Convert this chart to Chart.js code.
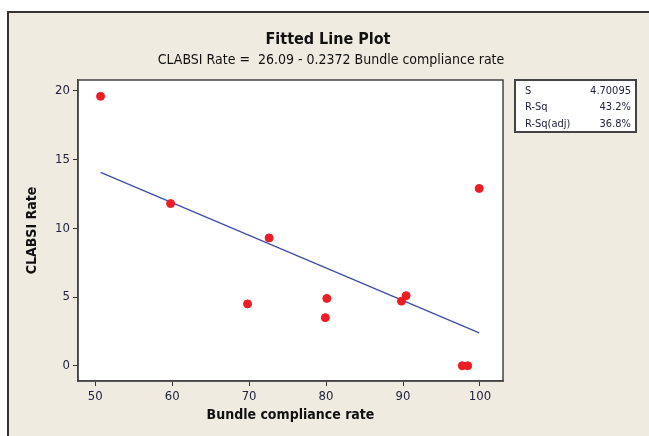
<!DOCTYPE html>
<html>
<head>
<meta charset="utf-8">
<script src="https://cdn.jsdelivr.net/npm/chart.js@4"></script>
<style>
  html, body { margin: 0; padding: 0; background: #fff; }
  #wrap { width: 649px; height: 436px; }
</style>
</head>
<body>
<div id="wrap"><canvas id="myChart" width="649" height="436"></canvas></div>
<script>
// data
const complianceRate = [50.7, 59.8, 69.8, 72.6, 79.9, 80.1, 89.8, 90.4, 97.7, 98.4, 99.9];
const clabsiRate = [19.6, 11.8, 4.5, 9.3, 3.5, 4.9, 4.7, 5.1, 0, 0, 12.9];
const fitX = [50.7, 99.9];
const fitY = [14.07, 2.39];
const xTicks = [50, 60, 70, 80, 90, 100];
const yTicks = [0, 5, 10, 15, 20];
const statLabels = ["S", "R-Sq", "R-Sq(adj)"];
const statValues = ["4.70095", "43.2%", "36.8%"];

const FONT = "'DejaVu Sans Condensed', 'DejaVu Sans', sans-serif";
const INK = "#23233f";

// frame, titles and the S / R-Sq box
const minitabFrame = {
  id: "minitabFrame",
  beforeDraw(chart) {
    const c = chart.ctx;
    const a = chart.chartArea;
    c.save();
    c.fillStyle = "#fff";
    c.fillRect(0, 0, chart.width, chart.height);
    c.fillStyle = "#efebe0";
    c.fillRect(8, 12, chart.width, chart.height);
    c.strokeStyle = "#333";
    c.lineWidth = 2;
    c.beginPath();
    c.moveTo(8, chart.height);
    c.lineTo(8, 12);
    c.lineTo(chart.width, 12);
    c.stroke();
    c.fillStyle = "#fff";
    c.fillRect(a.left, a.top, a.right - a.left, a.bottom - a.top);

    c.fillStyle = "#111";
    c.textAlign = "center";
    c.textBaseline = "middle";
    c.font = "bold 16px " + FONT;
    c.fillText("Fitted Line Plot", 328, 40);
    c.font = "14px " + FONT;
    c.fillText("CLABSI Rate =  26.09 - 0.2372 Bundle compliance rate", 331, 60);

    // stats box
    c.fillStyle = "#fff";
    c.fillRect(515, 80, 121, 52);
    c.strokeStyle = "#444";
    c.lineWidth = 2;
    c.strokeRect(515, 80, 121, 52);
    c.font = "11px " + FONT;
    c.fillStyle = INK;
    statLabels.forEach((lab, i) => {
      const y = 91 + i * 16.5;
      c.textAlign = "left";
      c.fillText(lab, 525, y);
      c.textAlign = "right";
      c.fillText(statValues[i], 631, y);
    });
    c.restore();
  },
  afterDatasetsDraw(chart) {
    const c = chart.ctx;
    const a = chart.chartArea;
    c.save();
    c.strokeStyle = "#444";
    c.lineWidth = 1.5;
    c.strokeRect(a.left, a.top, a.right - a.left, a.bottom - a.top);
    c.restore();
  },
};

const ctx = document.querySelector("canvas#myChart").getContext("2d");
const myChart = new Chart(ctx, {
  type: "scatter",
  data: {
    datasets: [
      {
        label: "CLABSI Rate",
        data: complianceRate.map((x, i) => ({ x: x, y: clabsiRate[i] })),
        backgroundColor: "#ee1c25",
        borderColor: "#ee1c25",
        pointRadius: 4,
        order: 0,
      },
      {
        label: "Fit",
        data: fitX.map((x, i) => ({ x: x, y: fitY[i] })),
        showLine: true,
        borderColor: "#3f4cae",
        borderWidth: 1.3,
        pointRadius: 0,
        order: 1,
      },
    ],
  },
  options: {
    responsive: false,
    animation: false,
    layout: { padding: { left: 8, top: 80, right: 146, bottom: 0 } },
    plugins: { legend: { display: false }, tooltip: { enabled: false } },
    scales: {
      x: {
        type: "linear",
        min: 47.77,
        max: 102.99,
        afterBuildTicks: (s) => { s.ticks = xTicks.map((v) => ({ value: v })); },
        afterFit: (s) => { s.height = 55; },
        grid: { display: true, drawOnChartArea: false, drawTicks: true, tickLength: 5, color: "#333" },
        border: { display: true, color: "#444", width: 1.5 },
        ticks: { color: INK, padding: 3, font: { family: FONT, size: 13 } },
        title: {
          display: true,
          text: "Bundle compliance rate",
          color: "#111",
          font: { family: FONT, size: 14, weight: "bold" },
          padding: { top: 2, bottom: 12 },
        },
      },
      y: {
        type: "linear",
        min: -1.11,
        max: 20.79,
        afterBuildTicks: (s) => { s.ticks = yTicks.map((v) => ({ value: v })); },
        afterFit: (s) => { s.width = 70; },
        grid: { display: true, drawOnChartArea: false, drawTicks: true, tickLength: 5, color: "#333" },
        border: { display: true, color: "#444", width: 1.5 },
        ticks: { color: INK, padding: 3, font: { family: FONT, size: 13 } },
        title: {
          display: true,
          text: "CLABSI Rate",
          color: "#111",
          font: { family: FONT, size: 14, weight: "bold" },
          padding: { top: 16, bottom: 0 },
        },
      },
    },
  },
  plugins: [minitabFrame],
});
</script>
</body>
</html>
